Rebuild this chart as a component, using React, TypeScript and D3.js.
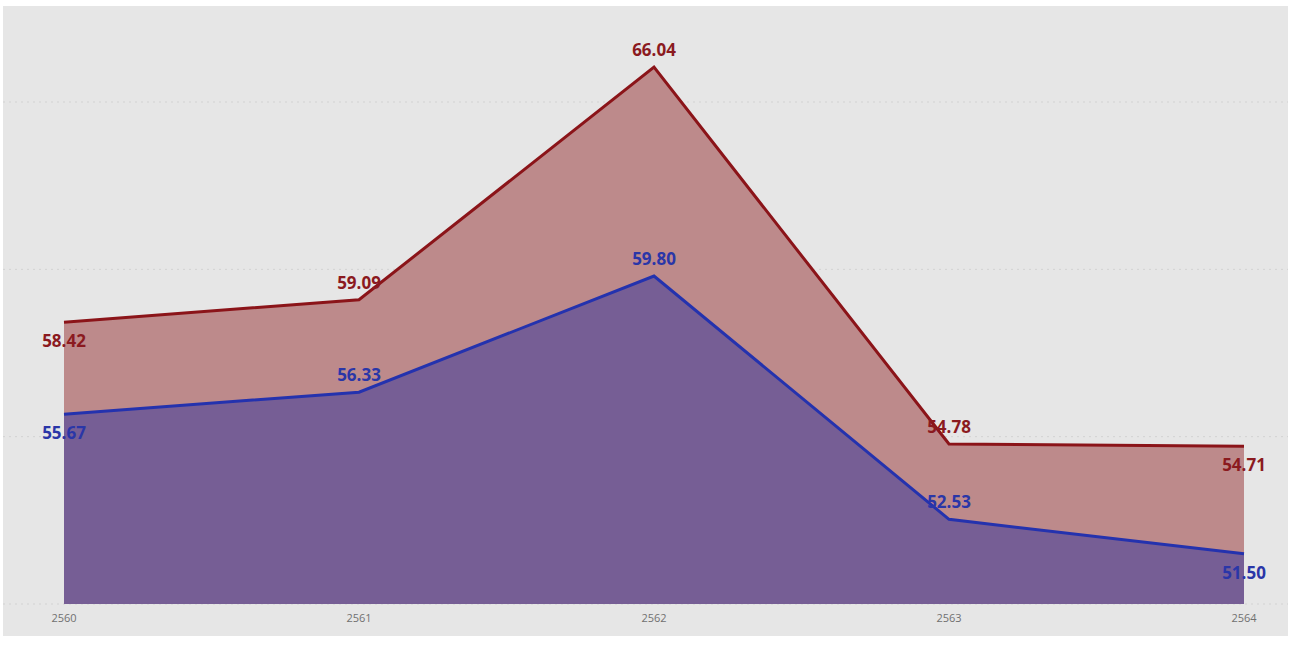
import React from "react";
import * as d3 from "d3";

const years = ["2560", "2561", "2562", "2563", "2564"];
const redValues = [58.42, 59.09, 66.04, 54.78, 54.71];
const blueValues = [55.67, 56.33, 59.8, 52.53, 51.5];
const gridTicks = [50, 55, 60, 65];
// label placement: true = above the point
const redAbove = [false, true, true, true, false];
const blueAbove = [false, true, true, true, false];

const App = () => {
    const width = 1291;
    const height = 646;

    const x = d3.scalePoint().domain(years).range([64, 1244]);
    const y = d3.scaleLinear().domain([50, 65]).range([604, 102]);

    const area = d3
        .area<number>()
        .x((d, i) => x(years[i]) as number)
        .y0(y(50))
        .y1((d) => y(d));

    const line = d3
        .line<number>()
        .x((d, i) => x(years[i]) as number)
        .y((d) => y(d));

    const labelFont = "'Open Sans', sans-serif";

    const labels = (values, above, color) =>
        values.map((v, i) => (
            <text
                key={i}
                x={x(years[i])}
                y={y(v) + (above[i] ? -11 : 25)}
                textAnchor="middle"
                fill={color}
                fontFamily={labelFont}
                fontWeight="bold"
                fontSize={17}
            >
                {v.toFixed(2)}
            </text>
        ));

    return (
        <svg width={width} height={height} style={{ position: "absolute", left: 0, top: 0 }}>
            <rect x={0} y={0} width={width} height={height} fill="#ffffff" />
            <rect x={3} y={6} width={1285} height={630} fill="#e6e6e6" />
            {gridTicks.map((t) => (
                <line
                    key={t}
                    x1={3}
                    x2={1288}
                    y1={y(t)}
                    y2={y(t)}
                    stroke="#d2d2d2"
                    strokeWidth={1}
                    strokeDasharray="2,4"
                />
            ))}
            <path d={area(redValues) as string} fill="#bd8a8b" />
            <path d={area(blueValues) as string} fill="#765e95" />
            <path d={line(redValues) as string} fill="none" stroke="#8b1419" strokeWidth={3} />
            <path d={line(blueValues) as string} fill="none" stroke="#2432ae" strokeWidth={3} />
            {labels(redValues, redAbove, "#8b1a1f")}
            {labels(blueValues, blueAbove, "#2a36a8")}
            {years.map((yr) => (
                <text
                    key={yr}
                    x={x(yr)}
                    y={622}
                    textAnchor="middle"
                    fill="#707070"
                    fontFamily={labelFont}
                    fontSize={11}
                >
                    {yr}
                </text>
            ))}
        </svg>
    );
};

export default App;
